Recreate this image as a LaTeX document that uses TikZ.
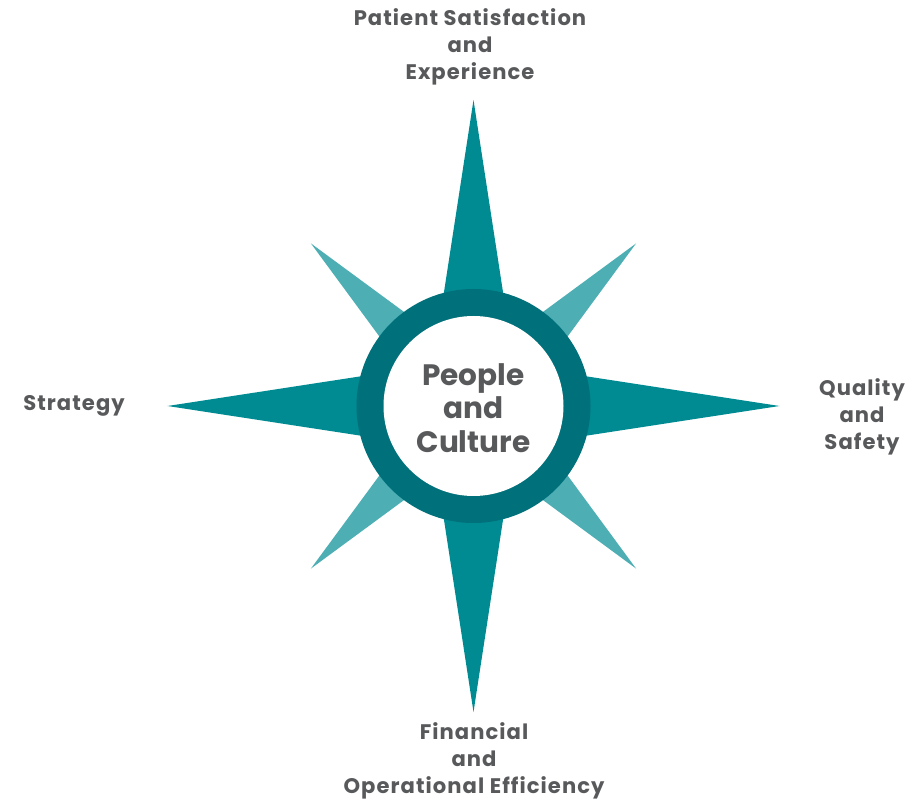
\documentclass[tikz,border=0pt]{standalone}
\usepackage{fontspec}
\setmainfont{Poppins}
\usetikzlibrary{positioning}
\definecolor{spoke}{HTML}{008B92}
\definecolor{spokelight}{HTML}{4DAEB4}
\definecolor{ringcol}{HTML}{00707A}
\definecolor{ink}{HTML}{58595B}
\tikzset{heading/.style={text=ink, align=center, inner sep=0pt,
    font=\bfseries\fontsize{15}{19}\selectfont\addfontfeatures{LetterSpace=5}},
  hub/.style={text=ink, align=center, inner sep=0pt,
    font=\bfseries\fontsize{21}{24}\selectfont}}

\begin{document}
\begin{tikzpicture}[x=0.025cm, y=0.025cm]
        \useasboundingbox (-473.5,-394) rectangle (444.5,406);
        \coordinate (O) at (0,0);
        % diagonal points
        \foreach \a in {45,135,225,315}
          \fill[spokelight] (\a:230) -- ({\a+90}:35) -- ({\a-90}:35) -- cycle;
        % main points
        \foreach \a in {0,90,180,270}
          \fill[spoke] (\a:306) -- ({\a+90}:47) -- ({\a-90}:47) -- cycle;
        % ring
        \fill[ringcol] (O) circle (117);
        \fill[white] (O) circle (90);
        \node[hub] (culture) at (0,-2) {People\\and\\Culture};

        \node[heading] (satisfaction) at (-3.5,359) {Patient Satisfaction\\and\\Experience};
        \node[heading] (quality) at (388.5,-11) {Quality\\and\\Safety};
        \node[heading] (financial) at (0.5,-355) {Financial\\and\\Operational Efficiency};
        \node[heading] (strategy) at (-399.5,0) {Strategy};
      \end{tikzpicture}
\end{document}
